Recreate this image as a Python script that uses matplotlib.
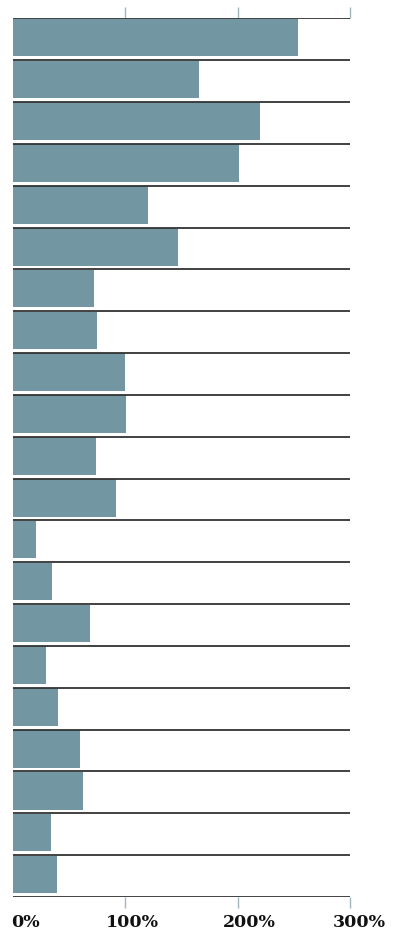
import matplotlib.pyplot as plt

# growth per row, in percent (top to bottom)
values = [253.4, 165.6, 219.9, 201.2, 120.2, 146.9, 72.1, 74.8, 99.7, 100.6,
          73.9, 91.7, 20.5, 34.7, 68.5, 29.4, 40.1, 59.6, 62.3, 33.8, 39.2]
tick_values = [100, 200, 300]
label_values = [0, 100, 200, 300]
label_texts = ["0%", "100%", "200%", "300%"]

BAR_COLOR = "#7397a2"
LINE_COLOR = "#333333"

fig = plt.figure(figsize=(4.04, 9.32), dpi=100)
ax = fig.add_axes([13 / 404, 1 - 897 / 932, 337 / 404, 878.7 / 932])

rows = list(range(len(values)))
ax.barh([r + 0.01 for r in rows], values, height=0.9, align="edge",
        color=BAR_COLOR, linewidth=0, zorder=1)

# row separators
ax.hlines(rows + [len(values)], 0, 300, color=LINE_COLOR, linewidth=1.3, zorder=2)

ax.set_xlim(0, 300)
ax.set_ylim(len(values), 0)

for s in ax.spines.values():
    s.set_visible(False)
ax.set_yticks([])
ax.set_xticks(tick_values)
ax.set_xticklabels([])
ax.tick_params(axis="x", top=True, bottom=True, length=8, width=1,
               color="#a3b6bd", direction="out")

# tick labels, shifted a bit right of the ticks as in the original
label_shift = [11.5, 6, 10, 8]
for v, t, dx in zip(label_values, label_texts, label_shift):
    ax.text(v + dx, -0.0345, t, transform=ax.get_xaxis_transform(),
            ha="center", va="baseline", fontsize=12.5, fontweight="bold",
            family="DejaVu Serif", color="#111111")

fig.savefig("out.png", dpi=100)
